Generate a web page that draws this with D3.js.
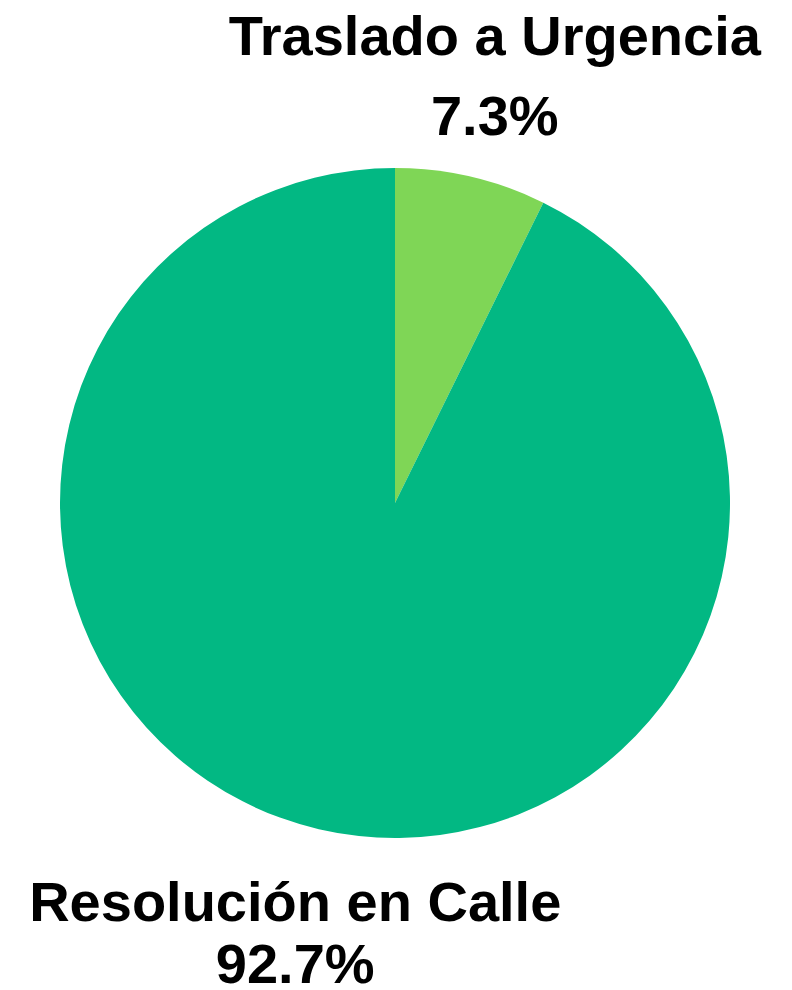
<!DOCTYPE html>
<html>
<head>
<meta charset="utf-8">
<title>Pie</title>
<style>
  body { margin: 0; background: #fff; }
  text { font-family: "Liberation Sans", Arial, sans-serif; font-weight: bold; fill: #000; }
</style>
</head>
<body>
<svg id="chart"></svg>
<script src="https://cdn.jsdelivr.net/npm/d3@7"></script>
<script>
var categories = ["Traslado a Urgencia", "Resolución en Calle"];
var values = [7.3, 92.7];
var colors = ["#7fd656", "#02b883"];

var width = 792, height = 990;
var cx = 395, cy = 503, r = 335;

var svg = d3.select("#chart").attr("width", width).attr("height", height);

var data = categories.map(function (c, i) { return { name: c, value: values[i], color: colors[i] }; });

var pie = d3.pie().sort(null).value(function (d) { return d.value; });
var arc = d3.arc().innerRadius(0).outerRadius(r);
var arcs = pie(data);

var g = svg.append("g").attr("transform", "translate(" + cx + "," + cy + ")");

g.selectAll("path")
  .data(arcs)
  .enter().append("path")
  .attr("d", arc)
  .attr("fill", function (d) { return d.data.color; });

// labels outside the pie, above or below depending on slice direction
var labels = svg.append("g");
arcs.forEach(function (d) {
  var mid = (d.startAngle + d.endAngle) / 2;
  var x = cx + 1.31 * r * Math.sin(mid);
  var top = Math.cos(mid) > 0;
  var y1 = top ? 55 : 921;
  var y2 = top ? 135 : 983;
  labels.append("text")
    .attr("x", x).attr("y", y1)
    .attr("text-anchor", "middle")
    .attr("font-size", 56)
    .text(d.data.name);
  labels.append("text")
    .attr("x", x).attr("y", y2)
    .attr("text-anchor", "middle")
    .attr("font-size", 56)
    .text(d3.format(".1f")(d.data.value) + "%");
});
</script>
</body>
</html>
